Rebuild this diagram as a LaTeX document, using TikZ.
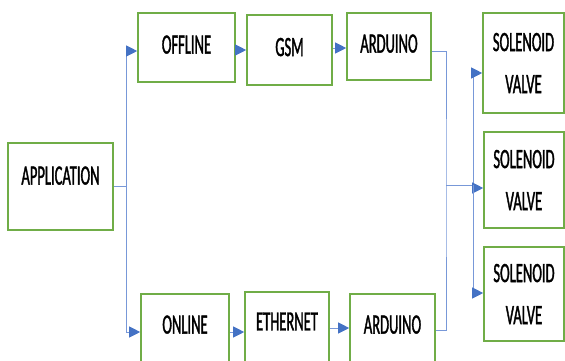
\documentclass[tikz,border=0pt]{standalone}
\usepackage{fontspec}
\newfontfamily\boxfont[FakeStretch=0.52,FakeBold=1.2]{Carlito}
\usepackage{tikz}
\usetikzlibrary{arrows.meta}

\definecolor{boxgreen}{RGB}{112,173,71}
\definecolor{linkblue}{RGB}{120,152,216}
\definecolor{tipblue}{RGB}{68,114,196}

\tikzset{
  blk/.style={draw=boxgreen, line width=1.6pt, fill=white, inner sep=0pt,
    align=center, font=\boxfont\fontsize{28}{42}\selectfont},
  link/.style={draw=linkblue, line width=0.9pt},
  feed/.style={link, -{Triangle[length=11pt,width=11pt,fill=tipblue,color=tipblue]}}
}

\begin{document}
\begin{tikzpicture}[x=1pt,y=-1pt]
  \useasboundingbox (0,0) rectangle (565,360);
  \clip (0,0) rectangle (565,360);
  \pgfmathsetmacro{\BusL}{126}
  \pgfmathsetmacro{\BusR}{446}
  \pgfmathsetmacro{\BusV}{473}

  % blocks
  \node[blk, minimum width=105pt, minimum height=87pt, text depth=22pt] (app) at (60.5,186.5) {APPLICATION};
  \node[blk, minimum width=97pt, minimum height=69pt, text depth=6pt] (off) at (186.5,47.5) {OFFLINE};
  \node[blk, minimum width=85pt, minimum height=70pt, text depth=6pt] (gsm) at (289.5,50) {GSM};
  \node[blk, minimum width=84pt, minimum height=67pt, text depth=6pt] (ardup) at (389,46.5) {ARDUINO};
  \node[blk, minimum width=88pt, minimum height=71pt, text depth=10pt] (onl) at (185,329.5) {ONLINE};
  \node[blk, minimum width=84pt, minimum height=73pt, text depth=14pt] (eth) at (287,328.5) {ETHERNET};
  \node[blk, minimum width=85pt, minimum height=71pt, text depth=10pt] (ardlo) at (392.5,329.5) {ARDUINO};
  \node[blk, minimum width=81pt, minimum height=100pt] (solA) at (523.5,63) {SOLENOID\\VALVE};
  \node[blk, minimum width=80pt, minimum height=96pt] (solB) at (524,180) {SOLENOID\\VALVE};
  \node[blk, minimum width=80pt, minimum height=94pt] (solC) at (524,294) {SOLENOID\\VALVE};

  % junctions
  \coordinate (jApp) at (\BusL,186);
  \coordinate (jArd) at (\BusR,185);
  \coordinate (jSol) at (\BusV,185);

  % left fork
  \draw[link] (app.east |- jApp) -- (jApp);
  \draw[feed] (jApp) |- (off.west |- 0,51);
  \draw[feed] (jApp) |- (onl.west |- 0,332);

  % chains
  \draw[feed] (off.east |- 0,50) -- (gsm.west |- 0,50);
  \draw[feed] (gsm.east |- 0,48) -- (ardup.west |- 0,48);
  \draw[feed] (onl.east |- 0,332) -- (eth.west |- 0,332);
  \draw[feed] (eth.east |- 0,328) -- (ardlo.west |- 0,328);

  % right fork
  \draw[link] (ardup.east |- 0,51) -| (jArd) |- (ardlo.east |- 0,330);
  \draw[link] (jArd) -- (jSol);
  \draw[feed] (jSol) |- (solA.west |- 0,73);
  \draw[feed] (jSol |- 0,188) -- (solB.west |- 0,188);
  \draw[feed] (jSol) |- (solC.west |- 0,293);
\end{tikzpicture}
\end{document}
